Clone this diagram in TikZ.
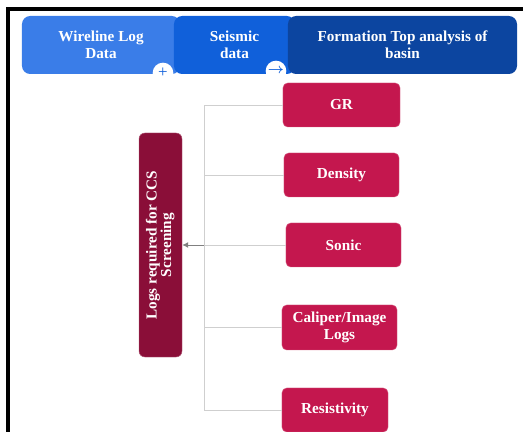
\documentclass[tikz,border=0pt]{standalone}
\usepackage{fontspec}
\setmainfont{Liberation Serif}
\usepackage{xcolor}
\usepackage{amsmath}
\usetikzlibrary{shapes.geometric, arrows, arrows.meta, positioning, calc}

\definecolor{tabLight}{HTML}{3A7DE8}
\definecolor{tabMid}{HTML}{1060DA}
\definecolor{tabDark}{HTML}{0C45A0}
\definecolor{mainRed}{HTML}{8A0E38}
\definecolor{logRed}{HTML}{C4174E}
\definecolor{linkGray}{HTML}{CFCFCF}

\begin{document}
\begin{tikzpicture}[x=0.03cm, y=-0.03cm,
            every node/.style={font=\fontsize{13}{14.5}\selectfont\bfseries, text=white, align=center},
            tab/.style={rounded corners=7pt, minimum height=1.74cm, inner sep=0pt},
            logbox/.style={fill=logRed, draw=logRed!70!white, rounded corners=4pt,
                minimum width=3.45cm, minimum height=1.32cm, inner sep=2pt},
            link/.style={draw=linkGray, line width=0.8pt},
            junction/.style={circle, fill=white, minimum size=0.62cm, inner sep=0pt, text=tabMid}]
            \useasboundingbox (0,0) rectangle (523,432);
            \clip (0,0) rectangle (523,432);

            % Rahmen
            \draw[line width=2.6pt] (8,9) rectangle (540,450);

            % Kopfzeile
            \node[tab, fill=tabLight, minimum width=4.74cm] (wireline) at (101,45) {Wireline Log\\Data};
            \node[tab, fill=tabMid, minimum width=3.63cm] (seismic) at (234.5,45) {Seismic\\data};
            \node[tab, fill=tabDark, minimum width=6.87cm] (formation) at (402.5,45) {Formation Top analysis of\\basin};
            \node[junction] (plus) at (163,73) {\normalfont\Large +};
            \node[junction] (next) at (276,71) {$\boldsymbol{\rightarrow}$};

            % Hauptknoten
            \node[fill=mainRed, draw=mainRed!70!white, rounded corners=5pt,
                minimum width=1.29cm, minimum height=6.72cm, inner sep=0pt] (ccs) at (160.5,245)
                {\rotatebox{90}{\begin{tabular}{@{}c@{}}Logs required for CCS\\[-2pt] Screening\end{tabular}}};

            % Logs
            \node[logbox, minimum width=3.51cm] (gr) at (341.5,105) {GR};
            \node[logbox] (density) at (341.5,175) {Density};
            \node[logbox] (sonic) at (343.5,245) {Sonic};
            \node[logbox, minimum height=1.35cm] (caliper) at (339.5,327.5) {Caliper/Image\\Logs};
            \node[logbox, minimum width=3.18cm] (resistivity) at (335,410) {Resistivity};

            % Verbindungen
            \coordinate (trunk) at (204,245);
            \draw[link] (gr.west) -| (trunk);
            \draw[link] (density.west) -| (trunk);
            \draw[link] (sonic.west) -- (trunk);
            \draw[link] (caliper.west) -| (trunk);
            \draw[link] (resistivity.west) -| (trunk);
            \draw[-{Latex[length=5pt, width=5pt]}, draw=gray, line width=0.8pt] (trunk) -- (ccs.east);
        \end{tikzpicture}
\end{document}
